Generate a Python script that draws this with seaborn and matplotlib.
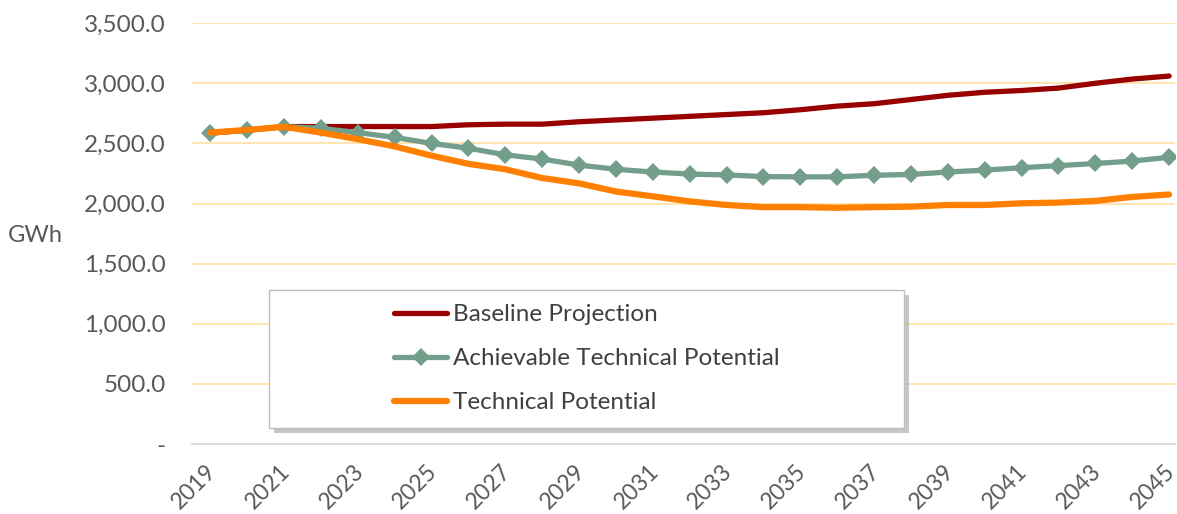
import numpy as np
import pandas as pd
import matplotlib
matplotlib.use('Agg')
import matplotlib.pyplot as plt
import matplotlib.transforms as mtransforms
from matplotlib.patches import Rectangle
from matplotlib.ticker import FuncFormatter, MultipleLocator, FixedLocator
import seaborn as sns

# ---- datos ----
years = list(range(2019, 2046))
baseline = [2585, 2610, 2640, 2640, 2640, 2640, 2640, 2655, 2660, 2660,
            2680, 2695, 2710, 2725, 2740, 2755, 2780, 2810, 2830, 2865,
            2900, 2925, 2940, 2960, 3000, 3035, 3060]
achievable = [2590, 2610, 2640, 2625, 2590, 2550, 2500, 2460, 2405, 2370,
              2320, 2285, 2262, 2245, 2238, 2224, 2222, 2222, 2235, 2242,
              2262, 2278, 2298, 2315, 2333, 2353, 2385]
technical = [2590, 2612, 2638, 2590, 2535, 2475, 2398, 2330, 2285, 2212,
             2168, 2100, 2060, 2018, 1988, 1970, 1970, 1965, 1970, 1974,
             1988, 1988, 2002, 2008, 2022, 2055, 2075]
tick_years = years[::2]
labels = ['Baseline Projection', 'Achievable Technical Potential', 'Technical Potential']
colors = ['#990000', '#739E8C', '#FF8000']

sns.set_theme(style='white')
plt.rcParams['font.family'] = ['Lato', 'DejaVu Sans']

fig = plt.figure(figsize=(11.77, 5.14), dpi=100)
ax = fig.add_axes([0.163, 0.136, 0.835, 0.819])

sns.lineplot(x=years, y=baseline, color=colors[0], lw=3.8, label=labels[0],
             ax=ax, solid_capstyle='round')
sns.lineplot(x=years, y=achievable, color=colors[1], lw=3.8, marker='D',
             markersize=9, markeredgewidth=0, label=labels[1], ax=ax)
sns.lineplot(x=years, y=technical, color=colors[2], lw=4.5, label=labels[2],
             ax=ax, solid_capstyle='round')

ax.set_xlim(2018.5, 2045.15)
ax.set_ylim(0, 3500)
ax.yaxis.set_major_locator(MultipleLocator(500))
ax.xaxis.set_major_locator(FixedLocator(tick_years))
ax.yaxis.set_major_formatter(FuncFormatter(lambda v, p: '-' if v == 0 else f'{v:,.1f}'))
ax.xaxis.set_major_formatter(FuncFormatter(lambda v, p: f'{int(v)}'))

ax.grid(axis='y', color='#FFE3A8', lw=1.3)
ax.grid(axis='x', visible=False)
for s in ['top', 'right', 'left']:
    ax.spines[s].set_visible(False)
ax.spines['bottom'].set_color('#D9D9D9')
ax.spines['bottom'].set_linewidth(1.3)
ax.tick_params(axis='both', length=0, labelsize=17.5, colors='#595959')
ax.tick_params(axis='x', labelsize=16.5, pad=12)
ax.tick_params(axis='y', pad=19)

# etiquetas del eje x giradas, un poco a la izquierda para no cortarse
shift = mtransforms.ScaledTranslation(-5 / 100, 0, fig.dpi_scale_trans)
for t in ax.get_xticklabels():
    t.set_rotation(45)
    t.set_ha('right')
    t.set_va('top')
    t.set_rotation_mode('anchor')
    t.set_transform(t.get_transform() + shift)

ax.set_xlabel('')
ax.set_ylabel('GWh', rotation=0, ha='left', va='center', fontsize=17, color='#595959')
ax.yaxis.set_label_coords(-0.187, 0.495)

# caja de leyenda con sombra
bx, by, bw, bh = 0.079, 0.038, 0.646, 0.328
shadow = Rectangle((bx + 0.005, by - 0.012), bw, bh, transform=ax.transAxes,
                   facecolor='#9A9A9A', edgecolor='none', alpha=0.55, zorder=5)
box = Rectangle((bx, by), bw, bh, transform=ax.transAxes, facecolor='white',
                edgecolor='#BFBFBF', lw=1, zorder=6)
ax.add_patch(shadow)
ax.add_patch(box)
leg = ax.legend(loc='center', bbox_to_anchor=(0.402, 0.203), frameon=False,
                fontsize=17.5, handlelength=2.2, labelspacing=0.95, handletextpad=0.25,
                labelcolor='#404040')
leg.set_zorder(7)

fig.savefig('out.png', dpi=100)
